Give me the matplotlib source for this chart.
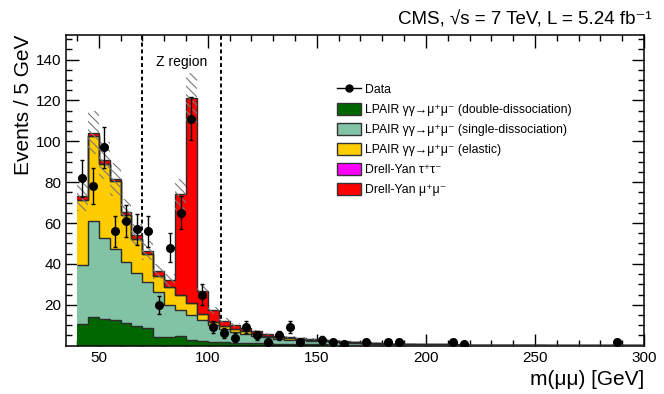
import numpy as np
import matplotlib
matplotlib.use("Agg")
import matplotlib.pyplot as plt
from matplotlib.lines import Line2D
from matplotlib.patches import Patch

plt.rcParams["font.family"] = ["Liberation Sans", "DejaVu Sans"]
plt.rcParams["hatch.linewidth"] = 0.8

# 5 GeV bins from 40 to 300 GeV
edges = np.arange(40, 305, 5)

# LPAIR gamma gamma -> mu mu, double dissociation
double_diss = [10.5, 13.9, 13.2, 12.4, 11.0, 9.5, 8.5, 4.3, 4.4, 4.6,
               2.6, 2.4, 1.8, 1.7, 1.5, 1.4, 1.2, 1.1, 1.0, 0.9,
               0.8, 0.7, 0.6, 0.5, 0.5, 0.4, 0.4, 0.3, 0.3, 0.3,
               0.2, 0.2, 0.2, 0.2, 0.1, 0.1, 0.1, 0.1, 0.1, 0.1,
               0.1, 0.1, 0.1, 0.05, 0.05, 0.05, 0.05, 0.05, 0.05, 0.05,
               0.05, 0.05]
# single dissociation
single_diss = [29.0, 47.1, 39.6, 34.7, 30.0, 26.1, 22.9, 21.9, 15.3, 13.0,
               12.4, 10.1, 8.2, 6.3, 5.3, 4.4, 3.7, 3.1, 2.5, 2.1,
               1.8, 1.6, 1.6, 1.2, 1.0, 0.9, 0.7, 0.7, 0.5, 0.4,
               0.4, 0.35, 0.3, 0.3, 0.3, 0.25, 0.25, 0.2, 0.2, 0.2,
               0.15, 0.15, 0.15, 0.1, 0.1, 0.1, 0.1, 0.1, 0.1, 0.1,
               0.05, 0.05]
# elastic
elastic = [32.0, 41.6, 35.9, 33.3, 22.8, 16.8, 13.3, 8.1, 8.8, 7.4,
           6.0, 3.0, 1.5, 1.5, 1.4, 1.2, 0.9, 0.6, 0.7, 0.6,
           0.5, 0.5, 0.4, 0.5, 0.4, 0.3, 0.3, 0.3, 0.25, 0.2,
           0.2, 0.2, 0.15, 0.15, 0.15, 0.1, 0.1, 0.1, 0.1, 0.1,
           0.1, 0.1, 0.05, 0.05, 0.05, 0.05, 0.05, 0.05, 0.05, 0.05,
           0.05, 0.05]
# Drell-Yan tau tau
dy_tautau = [0.0] * 52
# Drell-Yan mu mu
dy_mumu = [1.6, 1.6, 2.0, 1.0, 1.6, 1.7, 1.8, 2.1, 3.6, 49.0,
           100.3, 11.5, 5.9, 2.7, 1.9, 1.5, 1.2, 0.9, 0.7, 0.6,
           0.6, 0.5, 0.4, 0.3, 0.3, 0.2, 0.2, 0.2, 0.15, 0.15,
           0.1, 0.1, 0.1, 0.1, 0.05, 0.05, 0.05, 0.05, 0.05, 0.05,
           0.0, 0.0, 0.0, 0.0, 0.0, 0.0, 0.0, 0.0, 0.0, 0.0,
           0.0, 0.0]

# observed events per bin
data = [82, 78, 97, 56, 61, 57, 56, 20, 48, 65,
        111, 25, 9, 6, 4, 9, 5, 2, 5, 9,
        2, 0, 3, 2, 1, 0, 2, 0, 2, 2,
        0, 0, 0, 0, 2, 1, 0, 0, 0, 0,
        0, 0, 0, 0, 0, 0, 0, 0, 0, 2,
        0, 0]

z_region = (70, 106)

components = [
    (double_diss, "#006600", "LPAIR γγ→μ⁺μ⁻ (double-dissociation)"),
    (single_diss, "#82c3a6", "LPAIR γγ→μ⁺μ⁻ (single-dissociation)"),
    (elastic, "#ffcc00", "LPAIR γγ→μ⁺μ⁻ (elastic)"),
    (dy_tautau, "#ff00ff", "Drell-Yan τ⁺τ⁻"),
    (dy_mumu, "#ff0000", "Drell-Yan μ⁺μ⁻"),
]

fig = plt.figure(figsize=(6.64, 3.94), dpi=100)
ax = fig.add_axes([0.0994, 0.1226, 0.8705, 0.7886])

for xv in z_region:
    ax.axvline(xv, color="black", ls=(0, (2, 1.5)), lw=1.4, zorder=1)
ax.text(np.mean(z_region), 139, "Z region", ha="center", va="center", fontsize=10)

base = np.zeros(len(edges) - 1)
handles = []
for vals, col, lab in components:
    v = np.asarray(vals, dtype=float)
    top = base + v
    ax.stairs(top, edges, baseline=base, fill=True, color=col, lw=0, zorder=2)
    ax.stairs(top, edges, baseline=None, color="#2b2b2b", lw=1.0, zorder=3)
    handles.append(Patch(facecolor=col, edgecolor="#333333", lw=1.0, label=lab))
    base = top
total = base

# systematic band
ax.stairs(total * 1.1, edges, baseline=total * 0.9, fill=True, facecolor="none",
          edgecolor="#7a7a7a", hatch="\\\\\\\\", lw=0, zorder=4)

d = np.asarray(data, dtype=float)
centers = 0.5 * (edges[:-1] + edges[1:])
mask = d > 0
ax.errorbar(centers[mask], d[mask], yerr=np.sqrt(d[mask]), fmt="o", color="black",
            ms=5.5, elinewidth=1.0, capsize=1.5, capthick=1.0, zorder=5)

data_handle = Line2D([], [], color="black", marker="o", ms=5, lw=1.0, label="Data")
ax.legend(handles=[data_handle] + handles, loc="upper left", bbox_to_anchor=(0.468, 0.845),
          frameon=False, fontsize=8.8, borderpad=0, labelspacing=0.55,
          handlelength=2.0, handleheight=1.15, handletextpad=0.35, borderaxespad=0)

ax.set_xlim(35, 300)
ax.set_ylim(0, 152)
ax.set_xticks(np.arange(50, 301, 50))
ax.set_xticks(np.arange(40, 301, 10), minor=True)
ax.set_yticks(np.arange(20, 141, 20))
ax.set_yticks(np.arange(5, 151, 5), minor=True)
ax.tick_params(which="both", direction="in", top=True, right=True, labelsize=11, width=1.0)
ax.tick_params(which="major", length=9)
ax.tick_params(which="minor", length=4.5)
for s in ax.spines.values():
    s.set_linewidth(1.1)

ax.set_xlabel("m(μμ) [GeV]", fontsize=15, loc="right", labelpad=4)
ax.set_ylabel("Events / 5 GeV", fontsize=15, loc="top", labelpad=2)
fig.text(0.982, 0.95, "CMS, √s = 7 TeV, L = 5.24 fb⁻¹", ha="right", va="center", fontsize=13.5)

fig.savefig("out.png", dpi=100)
